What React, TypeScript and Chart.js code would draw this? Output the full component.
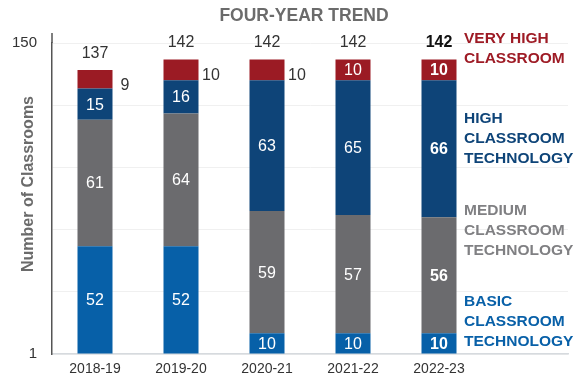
import React, { useEffect, useRef } from "react";
import { Chart, registerables } from "chart.js";

Chart.register(...registerables);

const categories = ["2018-19", "2019-20", "2020-21", "2021-22", "2022-23", ""];
const basic = [52, 52, 10, 10, 10];
const medium = [61, 64, 59, 57, 56];
const high = [15, 16, 63, 65, 66];
const veryHigh = [9, 10, 10, 10, 10];
const totals = [137, 142, 142, 142, 142];
const yTickText: Record<number, string> = { 0: "1", 150: "150" };
const seriesNames = ["Basic", "Medium", "High", "Very High"];
const sideLabels = [
  { lines: ["VERY HIGH", "CLASSROOM"], y: 39, color: "#9e1b25" },
  { lines: ["HIGH", "CLASSROOM", "TECHNOLOGY"], y: 119, color: "#0e4478" },
  { lines: ["MEDIUM", "CLASSROOM", "TECHNOLOGY"], y: 211, color: "#808083" },
  { lines: ["BASIC", "CLASSROOM", "TECHNOLOGY"], y: 302, color: "#0860a8" },
];
const colors = ["#0760a8", "#6b6b6e", "#0e4478", "#9b1b24"];
const FONT = "'Liberation Sans', Arial, sans-serif";

const labelsPlugin = {
  id: "labelsPlugin",
  afterDatasetsDraw(chart: any) {
    const ctx = chart.ctx;
    ctx.save();
    ctx.textAlign = "center";
    ctx.textBaseline = "middle";
    const n = totals.length;
    chart.data.datasets.forEach((ds: any, i: number) => {
      const meta = chart.getDatasetMeta(i);
      meta.data.forEach((el: any, j: number) => {
        if (j >= n) return;
        const v = ds.data[j];
        if (v == null) return;
        const bold = j === n - 1;
        ctx.font = `${bold ? "bold " : ""}16px ${FONT}`;
        const cy = (el.y + el.base) / 2;
        if (i === 3 && j < 3) {
          ctx.fillStyle = "#333333";
          ctx.fillText(String(v), el.x + 30, cy + 6);
        } else {
          ctx.fillStyle = "#ffffff";
          ctx.fillText(String(v), el.x, cy + 1);
        }
      });
    });
    const top = chart.getDatasetMeta(3);
    top.data.forEach((el: any, j: number) => {
      if (j >= n) return;
      const bold = j === n - 1;
      ctx.font = `${bold ? "bold " : ""}16px ${FONT}`;
      ctx.fillStyle = bold ? "#111111" : "#333333";
      ctx.fillText(String(totals[j]), el.x, el.y - 16.5);
    });
    ctx.restore();
  },
  afterDraw(chart: any) {
    const ctx = chart.ctx;
    const area = chart.chartArea;
    ctx.save();
    ctx.strokeStyle = "#555555";
    ctx.lineWidth = 1.5;
    ctx.beginPath();
    ctx.moveTo(area.left, area.top - 10);
    ctx.lineTo(area.left, area.top);
    ctx.stroke();
    ctx.textBaseline = "middle";
    ctx.textAlign = "center";
    ctx.font = `bold 17.5px ${FONT}`;
    ctx.fillStyle = "#6b6b6b";
    ctx.fillText("FOUR-YEAR TREND", 304, 16);
    ctx.save();
    ctx.translate(28.5, 184);
    ctx.rotate(-Math.PI / 2);
    ctx.font = `bold 16px ${FONT}`;
    ctx.fillStyle = "#6b6b6b";
    ctx.fillText("Number of Classrooms", 0, 0);
    ctx.restore();
    ctx.textAlign = "left";
    ctx.font = `bold 15.5px ${FONT}`;
    sideLabels.forEach((s) => {
      ctx.fillStyle = s.color;
      s.lines.forEach((t, k) => ctx.fillText(t, 464, s.y + k * 20));
    });
    ctx.restore();
  },
};

export default function App() {
  const ref = useRef<HTMLCanvasElement>(null);
  useEffect(() => {
    document.body.style.margin = "0";
    const chart = new Chart(ref.current!, {
      type: "bar",
      data: {
        labels: categories,
        datasets: [basic, medium, high, veryHigh].map((d, i) => ({
          label: seriesNames[i],
          data: [...d, null],
          backgroundColor: colors[i],
          borderWidth: 0,
          barPercentage: 0.407,
          categoryPercentage: 1,
        })),
      },
      options: {
        responsive: false,
        animation: false,
        layout: { padding: { top: 43, right: 11, left: 0, bottom: 0 } },
        plugins: {
          legend: { display: false },
          title: { display: false },
          tooltip: { enabled: false },
        },
        scales: {
          x: {
            stacked: true,
            grid: { display: false, drawTicks: false },
            border: { color: "#d6dade", width: 1.5 },
            ticks: { color: "#333333", font: { size: 14, family: FONT }, padding: 7, maxRotation: 0 },
            afterFit: (s: any) => { s.height = 27; },
          },
          y: {
            stacked: true,
            min: 0,
            max: 150,
            grid: { color: "#f0f0f0", drawTicks: false },
            border: { color: "#555555", width: 1.5 },
            ticks: {
              stepSize: 30,
              padding: 15,
              color: "#333333",
              font: { size: 15, family: FONT },
              callback: (v: any) => yTickText[v as number] ?? "",
            },
            afterFit: (s: any) => { s.width = 52; },
          },
        },
      },
      plugins: [labelsPlugin],
    });
    return () => chart.destroy();
  }, []);
  return (
    <div style={{ width: 579, height: 381 }}>
      <canvas ref={ref} width={579} height={381} />
    </div>
  );
}
